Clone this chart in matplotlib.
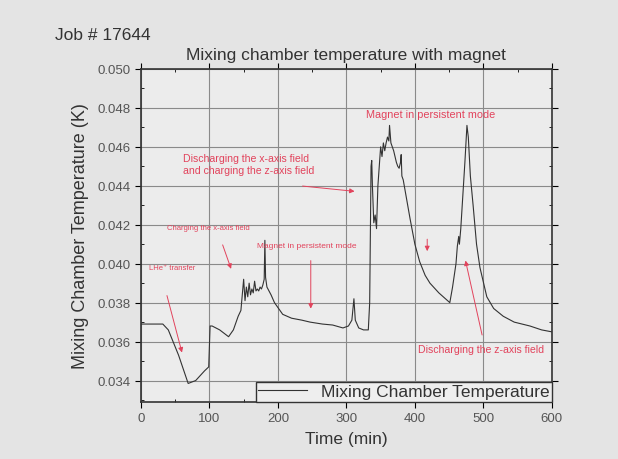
import numpy as np
import matplotlib.pyplot as plt
from matplotlib.ticker import MultipleLocator, FormatStrFormatter

plt.rcParams['font.family'] = ['Liberation Sans', 'DejaVu Sans']

# Mixing chamber temperature
time_min = [0, 32, 40, 55, 69, 80, 93, 99, 101, 104, 115, 128, 135, 142, 146, 148, 150,
            152, 154, 156, 158, 160, 162, 164, 166, 168, 170, 172, 174, 176, 178, 180,
            181, 182, 184, 190, 195, 207, 220, 235, 247, 265, 280, 295, 303, 308, 311,
            313, 318, 325, 332, 334, 336, 337, 338, 340, 342, 344, 346, 348, 350, 352,
            354, 356, 358, 360, 362, 363, 365, 367, 369, 371, 373, 375, 377, 379, 380,
            381, 383, 387, 393, 400, 407, 415, 422, 435, 451, 455, 460, 462, 464, 465,
            467, 470, 473, 476, 478, 481, 485, 490, 495, 505, 515, 529, 545, 568, 585, 600]
temp_K = [0.0369, 0.0369, 0.0366, 0.0353, 0.03385, 0.0340, 0.0345, 0.0347, 0.0368, 0.0368,
          0.0366, 0.03625, 0.0366, 0.0373, 0.0376, 0.0384, 0.0392,
          0.0381, 0.0388, 0.0383, 0.0390, 0.0384, 0.0387, 0.0385, 0.0391, 0.0386, 0.0387,
          0.0386, 0.0388, 0.0387, 0.0389, 0.0392,
          0.0412, 0.0393, 0.0388, 0.0384, 0.0380, 0.0374, 0.0372, 0.0371, 0.0370, 0.0369,
          0.03685, 0.0367, 0.0368, 0.0371, 0.0382,
          0.0371, 0.0367, 0.0366, 0.0366, 0.0380, 0.0450, 0.0453, 0.0440, 0.0421, 0.0425,
          0.0418, 0.0440, 0.0450, 0.0460, 0.0455,
          0.0462, 0.0458, 0.0462, 0.0465, 0.0463, 0.0471, 0.0462, 0.0460, 0.0458, 0.0455,
          0.0452, 0.0450, 0.0449, 0.0452, 0.0456,
          0.0445, 0.0443, 0.0435, 0.0423, 0.0410, 0.0401, 0.0394, 0.0390, 0.0385, 0.0380,
          0.0388, 0.0400, 0.0409, 0.0414, 0.0410,
          0.0418, 0.0435, 0.0452, 0.0471, 0.0465, 0.0445, 0.0430, 0.0410, 0.0398, 0.0383,
          0.0377, 0.0373, 0.0370, 0.0368, 0.0366, 0.0365]

# annotations: text, text position, arrow tail, arrow head
notes = [
    ("LHe\u207a transfer", (45, 0.0398), (37, 0.0385), (61, 0.0353)),
    ("Charging the x-axis field", (99, 0.04187), (118, 0.0411), (133, 0.0396)),
    ("Magnet in persistent mode", (242, 0.04095), (248, 0.0403), (248, 0.03755)),
    ("Discharging the x-axis field\nand charging the z-axis field", (61, 0.04512), (232, 0.0440), (316, 0.0437)),
    ("Magnet in persistent mode", (423, 0.04768), None, None),
    ("", None, (418, 0.0414), (418, 0.0405)),
    ("Discharging the z-axis field", (496, 0.0356), (499, 0.0362), (473, 0.0403)),
]
note_sizes = [5.5, 5.5, 6, 7.6, 7.8, 7, 7.6]

fig = plt.figure(figsize=(6.18, 4.6), dpi=100)
fig.patch.set_facecolor('#e4e4e4')
ax = fig.add_axes([0.228, 0.124, 0.665, 0.724])
ax.set_facecolor('#ececec')

ax.plot(time_min, temp_K, color='#333333', lw=0.8, label='Mixing Chamber Temperature')

ax.set_xlim(0, 600)
ax.set_ylim(0.0329, 0.050)
ax.xaxis.set_major_locator(MultipleLocator(100))
ax.xaxis.set_minor_locator(MultipleLocator(50))
ax.yaxis.set_major_locator(MultipleLocator(0.002))
ax.yaxis.set_minor_locator(MultipleLocator(0.001))
ax.yaxis.set_major_formatter(FormatStrFormatter('%.3f'))
ax.grid(True, which='major', color='#8a8a8a', lw=0.8)
ax.tick_params(which='major', direction='out', length=4, labelsize=9.5, labelcolor='#555555')
ax.tick_params(which='minor', direction='in', length=2.5)
ax.tick_params(which='both', top=True, right=True)
for s in ax.spines.values():
    s.set_color('#333333')
    s.set_linewidth(1.2)

red = '#e2435c'
for (txt, tpos, tail, head), fs in zip(notes, note_sizes):
    if txt:
        ha = 'left' if txt.startswith('Discharging the x') else 'center'
        ax.text(tpos[0], tpos[1], txt, color=red, fontsize=fs, ha=ha, va='center',
                linespacing=1.25)
    if tail is not None:
        ax.annotate('', xy=head, xytext=tail,
                    arrowprops=dict(arrowstyle='-|>', color=red, lw=0.7,
                                    mutation_scale=7))

ax.set_xlabel('Time (min)', fontsize=12.5, color='#333333', labelpad=5)
ax.set_ylabel('Mixing Chamber Temperature (K)', fontsize=13, color='#333333', labelpad=6)
ax.set_title('Mixing chamber temperature with magnet', fontsize=12.5, color='#333333', pad=7)
fig.text(0.089, 0.914, 'Job # 17644', fontsize=12.5, color='#333333')

leg = ax.legend(loc='lower right', borderaxespad=0, fancybox=False, fontsize=12.5,
                edgecolor='#333333', handlelength=2.8, borderpad=0.15, framealpha=1)
leg.get_frame().set_facecolor('#eeeeee')
for t in leg.get_texts():
    t.set_color('#333333')

fig.savefig('out.png', dpi=100, facecolor=fig.get_facecolor())
